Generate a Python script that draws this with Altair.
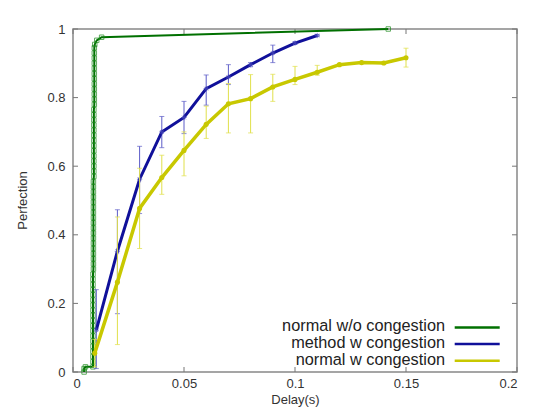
import altair as alt
import pandas as pd

# ---------------- data ----------------
series_names = ["normal w/o congestion", "method w congestion", "normal w congestion"]
series_colors = ["#007000", "#10109a", "#c8c800"]

green_x = [0.0050, 0.0050, 0.0056, 0.0090,
           0.0090, 0.0090, 0.0090, 0.0090, 0.0090, 0.0090, 0.0090, 0.0090, 0.0090, 0.0090,
           0.0090, 0.0090, 0.0090, 0.0090, 0.0090, 0.0090, 0.0090, 0.0090,
           0.0092, 0.0092, 0.0092, 0.0092, 0.0092, 0.0092, 0.0092, 0.0092, 0.0092, 0.0092,
           0.0092, 0.0092, 0.0092, 0.0092, 0.0092, 0.0092, 0.0092, 0.0092,
           0.0094, 0.0094, 0.0094, 0.0094, 0.0094, 0.0094, 0.0094, 0.0094, 0.0094, 0.0094,
           0.0094, 0.0094, 0.0094, 0.0094,
           0.0096, 0.0096, 0.0096, 0.0096, 0.0096, 0.0096, 0.0096, 0.0096, 0.0096, 0.0096,
           0.0096, 0.0096,
           0.0098, 0.0107, 0.0129, 0.1420]
green_y = [0.000, 0.010, 0.015, 0.015,
           0.030, 0.045, 0.060, 0.075, 0.090, 0.105, 0.120, 0.135, 0.150, 0.165,
           0.180, 0.195, 0.210, 0.225, 0.240, 0.255, 0.270, 0.285,
           0.300, 0.315, 0.330, 0.345, 0.360, 0.375, 0.390, 0.405, 0.420, 0.435,
           0.450, 0.465, 0.480, 0.495, 0.510, 0.525, 0.540, 0.555,
           0.570, 0.585, 0.600, 0.615, 0.630, 0.645, 0.660, 0.675, 0.690, 0.705,
           0.720, 0.735, 0.750, 0.765,
           0.780, 0.795, 0.810, 0.825, 0.840, 0.855, 0.870, 0.885, 0.900, 0.915,
           0.930, 0.945,
           0.955, 0.967, 0.976, 1.000]

blue_x = [0.0105, 0.02, 0.03, 0.04, 0.05, 0.06, 0.07, 0.08, 0.09, 0.10, 0.11]
blue_y = [0.122, 0.352, 0.562, 0.700, 0.742, 0.826, 0.860, 0.896, 0.930, 0.959, 0.981]
blue_lo = [0.010, 0.170, 0.462, 0.654, 0.695, 0.778, 0.838, 0.890, 0.902, 0.955, 0.978]
blue_hi = [0.240, 0.473, 0.658, 0.745, 0.789, 0.866, 0.896, 0.902, 0.953, 0.963, 0.984]

yellow_x = [0.0098, 0.02, 0.03, 0.04, 0.05, 0.06, 0.07, 0.08, 0.09, 0.10, 0.11, 0.12, 0.13, 0.14, 0.15]
yellow_y = [0.055, 0.262, 0.477, 0.567, 0.646, 0.722, 0.782, 0.797, 0.831, 0.853, 0.874, 0.896, 0.902, 0.901, 0.916]
yellow_lo = [0.015, 0.080, 0.360, 0.518, 0.572, 0.681, 0.697, 0.697, 0.789, 0.838, 0.865, 0.893, 0.899, 0.898, 0.889]
yellow_hi = [0.095, 0.452, 0.594, 0.632, 0.700, 0.775, 0.841, 0.867, 0.868, 0.891, 0.894, 0.899, 0.905, 0.904, 0.944]

x_ticks = [0, 0.05, 0.1, 0.15, 0.2]
y_ticks = [0, 0.2, 0.4, 0.6, 0.8, 1.0]

# ---------------- frames ----------------
green = pd.DataFrame({"x": green_x, "y": green_y, "i": list(range(len(green_x)))})
blue = pd.DataFrame({"x": blue_x, "y": blue_y, "lo": blue_lo, "hi": blue_hi,
                     "i": list(range(len(blue_x)))})
yellow = pd.DataFrame({"x": yellow_x, "y": yellow_y, "lo": yellow_lo, "hi": yellow_hi,
                       "i": list(range(len(yellow_x)))})
xt = pd.DataFrame({"x": x_ticks})
yt = pd.DataFrame({"y": y_ticks})

FONT = "Liberation Sans"
W, H = 444, 343

xs = alt.Scale(domain=[0, 0.2], nice=False, zero=False)
ys = alt.Scale(domain=[0, 1], nice=False, zero=False)
xaxis = alt.Axis(values=x_ticks, format="~g", domain=False, ticks=False, grid=False,
                 labelPadding=5, labelFontSize=13, labelFont=FONT, labelColor="#333",
                 title="Delay(s)", titleFont=FONT, titleFontSize=13, titleFontWeight="normal",
                 titleColor="#333", titleY=31, titleBaseline="alphabetic")
yaxis = alt.Axis(values=y_ticks, format="~g", domain=False, ticks=False, grid=False,
                 labelPadding=8, labelFontSize=13, labelFont=FONT, labelColor="#333",
                 title="Perfection", titleFont=FONT, titleFontSize=13, titleFontWeight="normal",
                 titleColor="#333", titleX=-51, titleY=171, titleBaseline="middle",
                 titleAlign="center")


def X(f="x"):
    return alt.X(f + ":Q", scale=xs, axis=xaxis)


def Y(f="y"):
    return alt.Y(f + ":Q", scale=ys, axis=yaxis)


layers = []

# inward ticks (bottom, top, left, right)
tick_col = "#777"
layers.append(alt.Chart(xt).mark_rule(color=tick_col, strokeWidth=1).encode(
    x=X(), y=alt.value(H), y2=alt.value(H - 5)))
layers.append(alt.Chart(xt).mark_rule(color=tick_col, strokeWidth=1).encode(
    x=X(), y=alt.value(0), y2=alt.value(5)))
layers.append(alt.Chart(yt).mark_rule(color=tick_col, strokeWidth=1).encode(
    y=Y(), x=alt.value(0), x2=alt.value(5)))
layers.append(alt.Chart(yt).mark_rule(color=tick_col, strokeWidth=1).encode(
    y=Y(), x=alt.value(W), x2=alt.value(W - 5)))

# green series
layers.append(alt.Chart(green).mark_line(color=series_colors[0], strokeWidth=2).encode(
    x=X(), y=Y(), order="i:Q"))
layers.append(alt.Chart(green).mark_point(shape="square", filled=False, size=20,
                                          color="#1a8a1a", strokeWidth=1).encode(
    x=X(), y=Y()))

# blue series
bar_blue = "#5c5cc8"
layers.append(alt.Chart(blue).mark_rule(color=bar_blue, strokeWidth=1).encode(
    x=X(), y=Y("lo"), y2="hi:Q"))
for f in ["lo", "hi"]:
    layers.append(alt.Chart(blue).mark_tick(orient="horizontal", color=bar_blue, size=5,
                                            thickness=1).encode(x=X(), y=Y(f)))
layers.append(alt.Chart(blue).mark_line(color=series_colors[1], strokeWidth=3).encode(
    x=X(), y=Y(), order="i:Q"))
layers.append(alt.Chart(blue).mark_point(
    shape="M-1,0L1,0M0,-1L0,1M-0.7,-0.7L0.7,0.7M-0.7,0.7L0.7,-0.7",
    filled=False, size=28, color="#5050c0", strokeWidth=1).encode(x=X(), y=Y()))

# yellow series
bar_yel = "#e0e04a"
layers.append(alt.Chart(yellow).mark_rule(color=bar_yel, strokeWidth=1).encode(
    x=X(), y=Y("lo"), y2="hi:Q"))
for f in ["lo", "hi"]:
    layers.append(alt.Chart(yellow).mark_tick(orient="horizontal", color=bar_yel, size=5,
                                              thickness=1).encode(x=X(), y=Y(f)))
layers.append(alt.Chart(yellow).mark_line(color=series_colors[2], strokeWidth=3.5).encode(
    x=X(), y=Y(), order="i:Q"))
layers.append(alt.Chart(yellow).mark_point(shape="circle", filled=True, size=26,
                                           color=series_colors[2], opacity=1).encode(
    x=X(), y=Y()))

# legend (gnuplot style: text then sample line)
row_y = [297.4, 314.1, 330.7]
for k, name in enumerate(series_names):
    ld = pd.DataFrame({"label": [name]})
    layers.append(alt.Chart(ld).mark_text(align="right", baseline="middle", font=FONT,
                                          fontSize=16.3, color="#222").encode(
        text="label:N", x=alt.value(372), y=alt.value(row_y[k])))
    layers.append(alt.Chart(ld).mark_rule(color=series_colors[k], strokeWidth=2.5).encode(
        x=alt.value(381.7), x2=alt.value(426.7), y=alt.value(row_y[k] + 1)))

chart = alt.layer(*layers).properties(
    width=W, height=H,
    padding={"left": 65, "top": 21, "right": 8, "bottom": 35},
    autosize=alt.AutoSizeParams(type="none"),
    background="white",
).configure_view(stroke="#888", strokeWidth=1.5)

chart.save("out.html", embed_options={"renderer": "svg", "actions": False})
